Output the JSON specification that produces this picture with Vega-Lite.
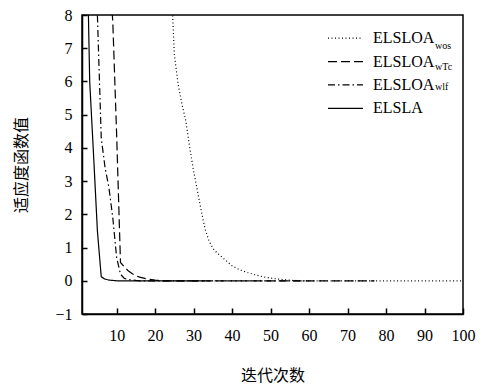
{
  "$schema": "https://vega.github.io/schema/vega-lite/v6.json",
  "width": 381,
  "height": 299,
  "autosize": {"type": "none"},
  "padding": {"left": 82, "top": 15, "right": 19, "bottom": 75},
  "background": "white",
  "config": {"view": {"stroke": "black", "strokeWidth": 1.5}, "font": "Liberation Serif"},
  "data": {"values": [
    {"it": 1, "val": 20, "series": "ELSLA", "sub": "none"},
    {"it": 2, "val": 12, "series": "ELSLA", "sub": "none"},
    {"it": 3, "val": 6.0, "series": "ELSLA", "sub": "none"},
    {"it": 4, "val": 3.8, "series": "ELSLA", "sub": "none"},
    {"it": 5, "val": 1.5, "series": "ELSLA", "sub": "none"},
    {"it": 6, "val": 0.12, "series": "ELSLA", "sub": "none"},
    {"it": 7, "val": 0.05, "series": "ELSLA", "sub": "none"},
    {"it": 8, "val": 0.02, "series": "ELSLA", "sub": "none"},
    {"it": 9, "val": 0.01, "series": "ELSLA", "sub": "none"},
    {"it": 10, "val": 0, "series": "ELSLA", "sub": "none"},
    {"it": 33, "val": 0, "series": "ELSLA", "sub": "none"},

    {"it": 1, "val": 25, "series": "ELSLOA_wlf", "sub": "wlf"},
    {"it": 4, "val": 12, "series": "ELSLOA_wlf", "sub": "wlf"},
    {"it": 5, "val": 8.0, "series": "ELSLOA_wlf", "sub": "wlf"},
    {"it": 6, "val": 4.3, "series": "ELSLOA_wlf", "sub": "wlf"},
    {"it": 7, "val": 3.4, "series": "ELSLOA_wlf", "sub": "wlf"},
    {"it": 8, "val": 2.8, "series": "ELSLOA_wlf", "sub": "wlf"},
    {"it": 9, "val": 1.9, "series": "ELSLOA_wlf", "sub": "wlf"},
    {"it": 10, "val": 0.7, "series": "ELSLOA_wlf", "sub": "wlf"},
    {"it": 11, "val": 0.2, "series": "ELSLOA_wlf", "sub": "wlf"},
    {"it": 12, "val": 0.07, "series": "ELSLOA_wlf", "sub": "wlf"},
    {"it": 13, "val": 0.04, "series": "ELSLOA_wlf", "sub": "wlf"},
    {"it": 15, "val": 0.01, "series": "ELSLOA_wlf", "sub": "wlf"},
    {"it": 16, "val": 0, "series": "ELSLOA_wlf", "sub": "wlf"},
    {"it": 60, "val": 0, "series": "ELSLOA_wlf", "sub": "wlf"},

    {"it": 1, "val": 30, "series": "ELSLOA_wTc", "sub": "wTc"},
    {"it": 8, "val": 9.5, "series": "ELSLOA_wTc", "sub": "wTc"},
    {"it": 9, "val": 7.8, "series": "ELSLOA_wTc", "sub": "wTc"},
    {"it": 10, "val": 4.4, "series": "ELSLOA_wTc", "sub": "wTc"},
    {"it": 11, "val": 0.55, "series": "ELSLOA_wTc", "sub": "wTc"},
    {"it": 12, "val": 0.42, "series": "ELSLOA_wTc", "sub": "wTc"},
    {"it": 13, "val": 0.3, "series": "ELSLOA_wTc", "sub": "wTc"},
    {"it": 14, "val": 0.22, "series": "ELSLOA_wTc", "sub": "wTc"},
    {"it": 15, "val": 0.15, "series": "ELSLOA_wTc", "sub": "wTc"},
    {"it": 16, "val": 0.11, "series": "ELSLOA_wTc", "sub": "wTc"},
    {"it": 17, "val": 0.08, "series": "ELSLOA_wTc", "sub": "wTc"},
    {"it": 18, "val": 0.05, "series": "ELSLOA_wTc", "sub": "wTc"},
    {"it": 20, "val": 0.02, "series": "ELSLOA_wTc", "sub": "wTc"},
    {"it": 22, "val": 0, "series": "ELSLOA_wTc", "sub": "wTc"},
    {"it": 77, "val": 0, "series": "ELSLOA_wTc", "sub": "wTc"},

    {"it": 1, "val": 40, "series": "ELSLOA_wos", "sub": "wos"},
    {"it": 24, "val": 9.5, "series": "ELSLOA_wos", "sub": "wos"},
    {"it": 25, "val": 6.8, "series": "ELSLOA_wos", "sub": "wos"},
    {"it": 26, "val": 5.9, "series": "ELSLOA_wos", "sub": "wos"},
    {"it": 27, "val": 5.3, "series": "ELSLOA_wos", "sub": "wos"},
    {"it": 28, "val": 4.8, "series": "ELSLOA_wos", "sub": "wos"},
    {"it": 29, "val": 4.0, "series": "ELSLOA_wos", "sub": "wos"},
    {"it": 30, "val": 3.3, "series": "ELSLOA_wos", "sub": "wos"},
    {"it": 31, "val": 2.7, "series": "ELSLOA_wos", "sub": "wos"},
    {"it": 32, "val": 2.1, "series": "ELSLOA_wos", "sub": "wos"},
    {"it": 33, "val": 1.55, "series": "ELSLOA_wos", "sub": "wos"},
    {"it": 34, "val": 1.2, "series": "ELSLOA_wos", "sub": "wos"},
    {"it": 35, "val": 0.98, "series": "ELSLOA_wos", "sub": "wos"},
    {"it": 36, "val": 0.85, "series": "ELSLOA_wos", "sub": "wos"},
    {"it": 37, "val": 0.75, "series": "ELSLOA_wos", "sub": "wos"},
    {"it": 38, "val": 0.65, "series": "ELSLOA_wos", "sub": "wos"},
    {"it": 40, "val": 0.45, "series": "ELSLOA_wos", "sub": "wos"},
    {"it": 42, "val": 0.33, "series": "ELSLOA_wos", "sub": "wos"},
    {"it": 44, "val": 0.25, "series": "ELSLOA_wos", "sub": "wos"},
    {"it": 46, "val": 0.18, "series": "ELSLOA_wos", "sub": "wos"},
    {"it": 48, "val": 0.12, "series": "ELSLOA_wos", "sub": "wos"},
    {"it": 50, "val": 0.08, "series": "ELSLOA_wos", "sub": "wos"},
    {"it": 52, "val": 0.05, "series": "ELSLOA_wos", "sub": "wos"},
    {"it": 55, "val": 0.02, "series": "ELSLOA_wos", "sub": "wos"},
    {"it": 58, "val": 0, "series": "ELSLOA_wos", "sub": "wos"},
    {"it": 100, "val": 0, "series": "ELSLOA_wos", "sub": "wos"}
  ]},
  "mark": {"type": "line", "clip": true, "color": "black", "strokeWidth": 1.2},
  "encoding": {
    "x": {
      "field": "it", "type": "quantitative",
      "scale": {"domain": [1, 100], "nice": false, "zero": false},
      "axis": {
        "values": [10, 20, 30, 40, 50, 60, 70, 80, 90, 100],
        "title": "迭代次数", "titleFont": "Noto Sans CJK SC", "titleFontSize": 16,
        "titleFontWeight": "normal", "titleColor": "black", "titlePadding": 24,
        "labelFont": "Liberation Serif", "labelFontSize": 16, "labelColor": "black",
        "tickColor": "black", "tickSize": -6, "tickWidth": 1.5, "labelPadding": 19,
        "grid": false, "domainColor": "black", "domainWidth": 1.5, "labelFlush": false
      }
    },
    "y": {
      "field": "val", "type": "quantitative",
      "scale": {"domain": [-1, 8], "nice": false, "zero": false},
      "axis": {
        "values": [-1, 0, 1, 2, 3, 4, 5, 6, 7, 8],
        "title": "适应度函数值", "titleFont": "Noto Sans CJK SC", "titleFontSize": 16,
        "titleFontWeight": "normal", "titleColor": "black", "titlePadding": 25,
        "labelFont": "Liberation Serif", "labelFontSize": 16, "labelColor": "black",
        "tickColor": "black", "tickSize": -5, "tickWidth": 1.5, "labelPadding": 15,
        "grid": false, "domainColor": "black", "domainWidth": 1.5, "labelFlush": false
      }
    },
    "strokeDash": {
      "field": "series", "type": "nominal",
      "scale": {
        "domain": ["ELSLOA_wos", "ELSLOA_wTc", "ELSLOA_wlf", "ELSLA"],
        "range": [[1, 2.5], [9, 4], [7, 3, 1.5, 3], [1, 0]]
      },
      "legend": {
        "orient": "none", "legendX": 254, "legendY": 13.65, "title": null, "padding": 0,
        "symbolType": "M-2,0H2", "symbolSize": 306, "symbolStrokeColor": "black",
        "symbolStrokeWidth": 1.2, "symbolFillColor": "transparent",
        "labelFont": "Liberation Serif", "labelFontSize": 16, "labelColor": "black",
        "labelOffset": 18, "rowPadding": 5.4,
        "labelExpr": "split(datum.label, '_')[0]"
      }
    },
    "opacity": {
      "field": "sub", "type": "nominal",
      "scale": {"domain": ["wos", "wTc", "wlf", "none"], "range": [1, 1, 1, 1]},
      "legend": {
        "orient": "none", "legendX": 254, "legendY": 21.65, "title": null, "padding": 0,
        "symbolType": "M-2,0H2", "symbolSize": 306, "symbolOpacity": 0,
        "symbolStrokeColor": "transparent", "symbolFillColor": "transparent",
        "symbolStrokeWidth": 1.2,
        "labelFont": "Liberation Serif", "labelFontSize": 10, "labelColor": "black",
        "labelOffset": 80, "rowPadding": 5.4,
        "labelExpr": "datum.label == 'none' ? '' : datum.label"
      }
    }
  }
}
